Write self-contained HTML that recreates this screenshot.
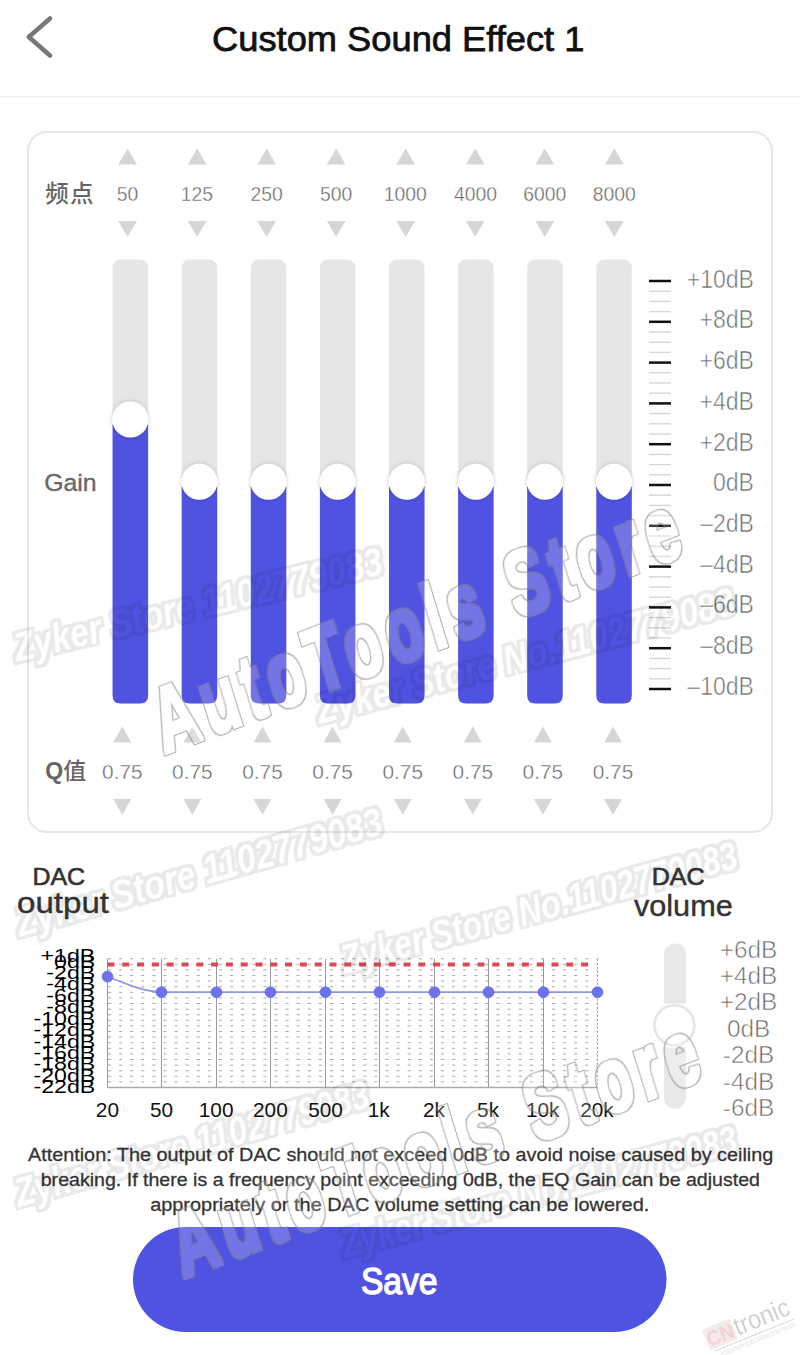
<!DOCTYPE html>
<html><head><meta charset="utf-8"><title>Custom Sound Effect 1</title>
<style>html,body{margin:0;padding:0;background:#fff;width:800px;height:1355px;overflow:hidden;position:relative;font-family:"Liberation Sans","Noto Sans CJK SC",sans-serif}</style>
</head><body>
<svg width="800" height="1355" viewBox="0 0 800 1355" style="position:absolute;left:0;top:0">
<defs><filter id="ks" x="-50%" y="-50%" width="200%" height="200%"><feDropShadow dx="0" dy="0" stdDeviation="2" flood-color="#000" flood-opacity="0.22"/></filter></defs>
<path d="M50 18.5 L28.8 37 L50 55.5" fill="none" stroke="#777" stroke-width="4.5" stroke-linecap="round" stroke-linejoin="round"/>
<text x="212.06" y="50.70" font-size="35" font-family="Liberation Sans, sans-serif" fill="#111" textLength="372.41" lengthAdjust="spacingAndGlyphs" stroke="#111" stroke-width="0.75">Custom Sound Effect 1</text>
<rect x="0" y="96" width="800" height="1.2" fill="#efefef"/>
<rect x="28" y="132" width="744" height="700" rx="19" ry="19" fill="#fff" stroke="#e7e7e7" stroke-width="2"/>
<text x="45.3" y="201.5" font-size="23.5" letter-spacing="1.2" font-weight="500" font-family="Liberation Sans, Noto Sans CJK SC, sans-serif" fill="#666">频点</text>
<path d="M118.25 164.50 L127.60 148.40 L136.95 164.50 Z" fill="#d6d6d6"/>
<text x="116.83" y="201.40" font-size="20.8" font-family="Liberation Sans, sans-serif" fill="#6a6a6a" textLength="21.52" lengthAdjust="spacingAndGlyphs" stroke="#fff" stroke-width="0.35">50</text>
<path d="M118.25 220.90 L127.60 237.10 L136.95 220.90 Z" fill="#d6d6d6"/>
<path d="M187.78 164.50 L197.13 148.40 L206.48 164.50 Z" fill="#d6d6d6"/>
<text x="180.66" y="201.40" font-size="20.8" font-family="Liberation Sans, sans-serif" fill="#6a6a6a" textLength="32.27" lengthAdjust="spacingAndGlyphs" stroke="#fff" stroke-width="0.35">125</text>
<path d="M187.78 220.90 L197.13 237.10 L206.48 220.90 Z" fill="#d6d6d6"/>
<path d="M257.31 164.50 L266.66 148.40 L276.01 164.50 Z" fill="#d6d6d6"/>
<text x="250.41" y="201.40" font-size="20.8" font-family="Liberation Sans, sans-serif" fill="#6a6a6a" textLength="32.27" lengthAdjust="spacingAndGlyphs" stroke="#fff" stroke-width="0.35">250</text>
<path d="M257.31 220.90 L266.66 237.10 L276.01 220.90 Z" fill="#d6d6d6"/>
<path d="M326.84 164.50 L336.19 148.40 L345.54 164.50 Z" fill="#d6d6d6"/>
<text x="320.04" y="201.40" font-size="20.8" font-family="Liberation Sans, sans-serif" fill="#6a6a6a" textLength="32.27" lengthAdjust="spacingAndGlyphs" stroke="#fff" stroke-width="0.35">500</text>
<path d="M326.84 220.90 L336.19 237.10 L345.54 220.90 Z" fill="#d6d6d6"/>
<path d="M396.37 164.50 L405.72 148.40 L415.07 164.50 Z" fill="#d6d6d6"/>
<text x="383.84" y="201.40" font-size="20.8" font-family="Liberation Sans, sans-serif" fill="#6a6a6a" textLength="43.03" lengthAdjust="spacingAndGlyphs" stroke="#fff" stroke-width="0.35">1000</text>
<path d="M396.37 220.90 L405.72 237.10 L415.07 220.90 Z" fill="#d6d6d6"/>
<path d="M465.90 164.50 L475.25 148.40 L484.60 164.50 Z" fill="#d6d6d6"/>
<text x="453.89" y="201.40" font-size="20.8" font-family="Liberation Sans, sans-serif" fill="#6a6a6a" textLength="43.03" lengthAdjust="spacingAndGlyphs" stroke="#fff" stroke-width="0.35">4000</text>
<path d="M465.90 220.90 L475.25 237.10 L484.60 220.90 Z" fill="#d6d6d6"/>
<path d="M535.43 164.50 L544.78 148.40 L554.13 164.50 Z" fill="#d6d6d6"/>
<text x="523.15" y="201.40" font-size="20.8" font-family="Liberation Sans, sans-serif" fill="#6a6a6a" textLength="43.03" lengthAdjust="spacingAndGlyphs" stroke="#fff" stroke-width="0.35">6000</text>
<path d="M535.43 220.90 L544.78 237.10 L554.13 220.90 Z" fill="#d6d6d6"/>
<path d="M604.96 164.50 L614.31 148.40 L623.66 164.50 Z" fill="#d6d6d6"/>
<text x="592.75" y="201.40" font-size="20.8" font-family="Liberation Sans, sans-serif" fill="#6a6a6a" textLength="43.03" lengthAdjust="spacingAndGlyphs" stroke="#fff" stroke-width="0.35">8000</text>
<path d="M604.96 220.90 L614.31 237.10 L623.66 220.90 Z" fill="#d6d6d6"/>
<rect x="112.60" y="259.6" width="35.5" height="443.8" rx="8" fill="#e6e6e6"/>
<path d="M112.60 424.50 H148.10 V695.40 Q148.10 703.4 140.10 703.4 H120.60 Q112.60 703.4 112.60 695.40 Z" fill="#5053e1"/>
<circle cx="130.35" cy="419.50" r="18" fill="#fff" filter="url(#ks)"/>
<rect x="181.70" y="259.6" width="35.5" height="443.8" rx="8" fill="#e6e6e6"/>
<path d="M181.70 486.80 H217.20 V695.40 Q217.20 703.4 209.20 703.4 H189.70 Q181.70 703.4 181.70 695.40 Z" fill="#5053e1"/>
<circle cx="199.45" cy="481.80" r="18" fill="#fff" filter="url(#ks)"/>
<rect x="250.80" y="259.6" width="35.5" height="443.8" rx="8" fill="#e6e6e6"/>
<path d="M250.80 486.80 H286.30 V695.40 Q286.30 703.4 278.30 703.4 H258.80 Q250.80 703.4 250.80 695.40 Z" fill="#5053e1"/>
<circle cx="268.55" cy="481.80" r="18" fill="#fff" filter="url(#ks)"/>
<rect x="319.90" y="259.6" width="35.5" height="443.8" rx="8" fill="#e6e6e6"/>
<path d="M319.90 486.80 H355.40 V695.40 Q355.40 703.4 347.40 703.4 H327.90 Q319.90 703.4 319.90 695.40 Z" fill="#5053e1"/>
<circle cx="337.65" cy="481.80" r="18" fill="#fff" filter="url(#ks)"/>
<rect x="389.00" y="259.6" width="35.5" height="443.8" rx="8" fill="#e6e6e6"/>
<path d="M389.00 486.80 H424.50 V695.40 Q424.50 703.4 416.50 703.4 H397.00 Q389.00 703.4 389.00 695.40 Z" fill="#5053e1"/>
<circle cx="406.75" cy="481.80" r="18" fill="#fff" filter="url(#ks)"/>
<rect x="458.10" y="259.6" width="35.5" height="443.8" rx="8" fill="#e6e6e6"/>
<path d="M458.10 486.80 H493.60 V695.40 Q493.60 703.4 485.60 703.4 H466.10 Q458.10 703.4 458.10 695.40 Z" fill="#5053e1"/>
<circle cx="475.85" cy="481.80" r="18" fill="#fff" filter="url(#ks)"/>
<rect x="527.20" y="259.6" width="35.5" height="443.8" rx="8" fill="#e6e6e6"/>
<path d="M527.20 486.80 H562.70 V695.40 Q562.70 703.4 554.70 703.4 H535.20 Q527.20 703.4 527.20 695.40 Z" fill="#5053e1"/>
<circle cx="544.95" cy="481.80" r="18" fill="#fff" filter="url(#ks)"/>
<rect x="596.30" y="259.6" width="35.5" height="443.8" rx="8" fill="#e6e6e6"/>
<path d="M596.30 486.80 H631.80 V695.40 Q631.80 703.4 623.80 703.4 H604.30 Q596.30 703.4 596.30 695.40 Z" fill="#5053e1"/>
<circle cx="614.05" cy="481.80" r="18" fill="#fff" filter="url(#ks)"/>
<text x="44.25" y="491.20" font-size="24.5" font-family="Liberation Sans, sans-serif" fill="#666" textLength="52.36" lengthAdjust="spacingAndGlyphs" stroke="#666" stroke-width="0.35">Gain</text>
<rect x="649" y="279.75" width="22" height="2.5" fill="#111"/>
<rect x="649" y="290.50" width="22" height="1.4" fill="#d6d6d6"/>
<rect x="649" y="300.70" width="22" height="1.4" fill="#d6d6d6"/>
<rect x="649" y="310.90" width="22" height="1.4" fill="#d6d6d6"/>
<rect x="649" y="320.55" width="22" height="2.5" fill="#111"/>
<rect x="649" y="331.30" width="22" height="1.4" fill="#d6d6d6"/>
<rect x="649" y="341.50" width="22" height="1.4" fill="#d6d6d6"/>
<rect x="649" y="351.70" width="22" height="1.4" fill="#d6d6d6"/>
<rect x="649" y="361.35" width="22" height="2.5" fill="#111"/>
<rect x="649" y="372.10" width="22" height="1.4" fill="#d6d6d6"/>
<rect x="649" y="382.30" width="22" height="1.4" fill="#d6d6d6"/>
<rect x="649" y="392.50" width="22" height="1.4" fill="#d6d6d6"/>
<rect x="649" y="402.15" width="22" height="2.5" fill="#111"/>
<rect x="649" y="412.90" width="22" height="1.4" fill="#d6d6d6"/>
<rect x="649" y="423.10" width="22" height="1.4" fill="#d6d6d6"/>
<rect x="649" y="433.30" width="22" height="1.4" fill="#d6d6d6"/>
<rect x="649" y="442.95" width="22" height="2.5" fill="#111"/>
<rect x="649" y="453.70" width="22" height="1.4" fill="#d6d6d6"/>
<rect x="649" y="463.90" width="22" height="1.4" fill="#d6d6d6"/>
<rect x="649" y="474.10" width="22" height="1.4" fill="#d6d6d6"/>
<rect x="649" y="483.75" width="22" height="2.5" fill="#111"/>
<rect x="649" y="494.50" width="22" height="1.4" fill="#d6d6d6"/>
<rect x="649" y="504.70" width="22" height="1.4" fill="#d6d6d6"/>
<rect x="649" y="514.90" width="22" height="1.4" fill="#d6d6d6"/>
<rect x="649" y="524.55" width="22" height="2.5" fill="#111"/>
<rect x="649" y="535.30" width="22" height="1.4" fill="#d6d6d6"/>
<rect x="649" y="545.50" width="22" height="1.4" fill="#d6d6d6"/>
<rect x="649" y="555.70" width="22" height="1.4" fill="#d6d6d6"/>
<rect x="649" y="565.35" width="22" height="2.5" fill="#111"/>
<rect x="649" y="576.10" width="22" height="1.4" fill="#d6d6d6"/>
<rect x="649" y="586.30" width="22" height="1.4" fill="#d6d6d6"/>
<rect x="649" y="596.50" width="22" height="1.4" fill="#d6d6d6"/>
<rect x="649" y="606.15" width="22" height="2.5" fill="#111"/>
<rect x="649" y="616.90" width="22" height="1.4" fill="#d6d6d6"/>
<rect x="649" y="627.10" width="22" height="1.4" fill="#d6d6d6"/>
<rect x="649" y="637.30" width="22" height="1.4" fill="#d6d6d6"/>
<rect x="649" y="646.95" width="22" height="2.5" fill="#111"/>
<rect x="649" y="657.70" width="22" height="1.4" fill="#d6d6d6"/>
<rect x="649" y="667.90" width="22" height="1.4" fill="#d6d6d6"/>
<rect x="649" y="678.10" width="22" height="1.4" fill="#d6d6d6"/>
<rect x="649" y="687.75" width="22" height="2.5" fill="#111"/>
<text x="686.67" y="287.60" font-size="25.5" font-family="Liberation Sans, sans-serif" fill="#6a6a6a" textLength="67.34" lengthAdjust="spacingAndGlyphs" stroke="#fff" stroke-width="0.6">+10dB</text>
<text x="699.50" y="328.33" font-size="25.5" font-family="Liberation Sans, sans-serif" fill="#6a6a6a" textLength="54.51" lengthAdjust="spacingAndGlyphs" stroke="#fff" stroke-width="0.6">+8dB</text>
<text x="699.50" y="369.06" font-size="25.5" font-family="Liberation Sans, sans-serif" fill="#6a6a6a" textLength="54.51" lengthAdjust="spacingAndGlyphs" stroke="#fff" stroke-width="0.6">+6dB</text>
<text x="699.50" y="409.79" font-size="25.5" font-family="Liberation Sans, sans-serif" fill="#6a6a6a" textLength="54.51" lengthAdjust="spacingAndGlyphs" stroke="#fff" stroke-width="0.6">+4dB</text>
<text x="699.50" y="450.52" font-size="25.5" font-family="Liberation Sans, sans-serif" fill="#6a6a6a" textLength="54.51" lengthAdjust="spacingAndGlyphs" stroke="#fff" stroke-width="0.6">+2dB</text>
<text x="712.97" y="491.25" font-size="25.5" font-family="Liberation Sans, sans-serif" fill="#6a6a6a" textLength="41.04" lengthAdjust="spacingAndGlyphs" stroke="#fff" stroke-width="0.6">0dB</text>
<text x="700.14" y="531.98" font-size="25.5" font-family="Liberation Sans, sans-serif" fill="#6a6a6a" textLength="53.87" lengthAdjust="spacingAndGlyphs" stroke="#fff" stroke-width="0.6">–2dB</text>
<text x="700.14" y="572.71" font-size="25.5" font-family="Liberation Sans, sans-serif" fill="#6a6a6a" textLength="53.87" lengthAdjust="spacingAndGlyphs" stroke="#fff" stroke-width="0.6">–4dB</text>
<text x="700.14" y="613.44" font-size="25.5" font-family="Liberation Sans, sans-serif" fill="#6a6a6a" textLength="53.87" lengthAdjust="spacingAndGlyphs" stroke="#fff" stroke-width="0.6">–6dB</text>
<text x="700.14" y="654.17" font-size="25.5" font-family="Liberation Sans, sans-serif" fill="#6a6a6a" textLength="53.87" lengthAdjust="spacingAndGlyphs" stroke="#fff" stroke-width="0.6">–8dB</text>
<text x="687.32" y="694.90" font-size="25.5" font-family="Liberation Sans, sans-serif" fill="#6a6a6a" textLength="66.70" lengthAdjust="spacingAndGlyphs" stroke="#fff" stroke-width="0.6">–10dB</text>
<text x="45.3" y="779" font-size="23" font-weight="500" font-family="Liberation Sans, Noto Sans CJK SC, sans-serif" fill="#666"><tspan font-weight="bold">Q</tspan>值</text>
<path d="M113.30 742.50 L122.30 726.40 L131.30 742.50 Z" fill="#d6d6d6"/>
<text x="102.04" y="778.80" font-size="20" font-family="Liberation Sans, sans-serif" fill="#6a6a6a" textLength="40.59" lengthAdjust="spacingAndGlyphs" stroke="#fff" stroke-width="0.35">0.75</text>
<path d="M113.30 799.00 L122.30 814.80 L131.30 799.00 Z" fill="#d6d6d6"/>
<path d="M183.40 742.50 L192.40 726.40 L201.40 742.50 Z" fill="#d6d6d6"/>
<text x="172.14" y="778.80" font-size="20" font-family="Liberation Sans, sans-serif" fill="#6a6a6a" textLength="40.59" lengthAdjust="spacingAndGlyphs" stroke="#fff" stroke-width="0.35">0.75</text>
<path d="M183.40 799.00 L192.40 814.80 L201.40 799.00 Z" fill="#d6d6d6"/>
<path d="M253.50 742.50 L262.50 726.40 L271.50 742.50 Z" fill="#d6d6d6"/>
<text x="242.24" y="778.80" font-size="20" font-family="Liberation Sans, sans-serif" fill="#6a6a6a" textLength="40.59" lengthAdjust="spacingAndGlyphs" stroke="#fff" stroke-width="0.35">0.75</text>
<path d="M253.50 799.00 L262.50 814.80 L271.50 799.00 Z" fill="#d6d6d6"/>
<path d="M323.60 742.50 L332.60 726.40 L341.60 742.50 Z" fill="#d6d6d6"/>
<text x="312.34" y="778.80" font-size="20" font-family="Liberation Sans, sans-serif" fill="#6a6a6a" textLength="40.59" lengthAdjust="spacingAndGlyphs" stroke="#fff" stroke-width="0.35">0.75</text>
<path d="M323.60 799.00 L332.60 814.80 L341.60 799.00 Z" fill="#d6d6d6"/>
<path d="M393.70 742.50 L402.70 726.40 L411.70 742.50 Z" fill="#d6d6d6"/>
<text x="382.44" y="778.80" font-size="20" font-family="Liberation Sans, sans-serif" fill="#6a6a6a" textLength="40.59" lengthAdjust="spacingAndGlyphs" stroke="#fff" stroke-width="0.35">0.75</text>
<path d="M393.70 799.00 L402.70 814.80 L411.70 799.00 Z" fill="#d6d6d6"/>
<path d="M463.80 742.50 L472.80 726.40 L481.80 742.50 Z" fill="#d6d6d6"/>
<text x="452.54" y="778.80" font-size="20" font-family="Liberation Sans, sans-serif" fill="#6a6a6a" textLength="40.59" lengthAdjust="spacingAndGlyphs" stroke="#fff" stroke-width="0.35">0.75</text>
<path d="M463.80 799.00 L472.80 814.80 L481.80 799.00 Z" fill="#d6d6d6"/>
<path d="M533.90 742.50 L542.90 726.40 L551.90 742.50 Z" fill="#d6d6d6"/>
<text x="522.64" y="778.80" font-size="20" font-family="Liberation Sans, sans-serif" fill="#6a6a6a" textLength="40.59" lengthAdjust="spacingAndGlyphs" stroke="#fff" stroke-width="0.35">0.75</text>
<path d="M533.90 799.00 L542.90 814.80 L551.90 799.00 Z" fill="#d6d6d6"/>
<path d="M604.00 742.50 L613.00 726.40 L622.00 742.50 Z" fill="#d6d6d6"/>
<text x="592.74" y="778.80" font-size="20" font-family="Liberation Sans, sans-serif" fill="#6a6a6a" textLength="40.59" lengthAdjust="spacingAndGlyphs" stroke="#fff" stroke-width="0.35">0.75</text>
<path d="M604.00 799.00 L613.00 814.80 L622.00 799.00 Z" fill="#d6d6d6"/>
<text x="32.45" y="885.40" font-size="23" font-family="Liberation Sans, sans-serif" fill="#333" textLength="52.70" lengthAdjust="spacingAndGlyphs" stroke="#333" stroke-width="0.6">DAC</text>
<text x="17.11" y="912.90" font-size="29.5" font-family="Liberation Sans, sans-serif" fill="#333" textLength="91.83" lengthAdjust="spacingAndGlyphs" stroke="#333" stroke-width="0.4">output</text>
<text x="651.74" y="884.90" font-size="23" font-family="Liberation Sans, sans-serif" fill="#333" textLength="52.91" lengthAdjust="spacingAndGlyphs" stroke="#333" stroke-width="0.6">DAC</text>
<text x="633.90" y="916.00" font-size="29.5" font-family="Liberation Sans, sans-serif" fill="#333" textLength="98.87" lengthAdjust="spacingAndGlyphs" stroke="#333" stroke-width="0.4">volume</text>
<line x1="108.00" y1="958.75" x2="597.50" y2="958.75" stroke="#a8a8a8" stroke-width="1" stroke-dasharray="3 8.1"/>
<line x1="108.00" y1="964.35" x2="597.50" y2="964.35" stroke="#a8a8a8" stroke-width="1" stroke-dasharray="3 8.1"/>
<line x1="108.00" y1="969.95" x2="597.50" y2="969.95" stroke="#a8a8a8" stroke-width="1" stroke-dasharray="3 8.1"/>
<line x1="108.00" y1="975.54" x2="597.50" y2="975.54" stroke="#a8a8a8" stroke-width="1" stroke-dasharray="3 8.1"/>
<line x1="108.00" y1="981.14" x2="597.50" y2="981.14" stroke="#a8a8a8" stroke-width="1" stroke-dasharray="3 8.1"/>
<line x1="108.00" y1="986.74" x2="597.50" y2="986.74" stroke="#a8a8a8" stroke-width="1" stroke-dasharray="3 8.1"/>
<line x1="108.00" y1="992.34" x2="597.50" y2="992.34" stroke="#a8a8a8" stroke-width="1" stroke-dasharray="3 8.1"/>
<line x1="108.00" y1="997.93" x2="597.50" y2="997.93" stroke="#a8a8a8" stroke-width="1" stroke-dasharray="3 8.1"/>
<line x1="108.00" y1="1003.53" x2="597.50" y2="1003.53" stroke="#a8a8a8" stroke-width="1" stroke-dasharray="3 8.1"/>
<line x1="108.00" y1="1009.13" x2="597.50" y2="1009.13" stroke="#a8a8a8" stroke-width="1" stroke-dasharray="3 8.1"/>
<line x1="108.00" y1="1014.73" x2="597.50" y2="1014.73" stroke="#a8a8a8" stroke-width="1" stroke-dasharray="3 8.1"/>
<line x1="108.00" y1="1020.33" x2="597.50" y2="1020.33" stroke="#a8a8a8" stroke-width="1" stroke-dasharray="3 8.1"/>
<line x1="108.00" y1="1025.92" x2="597.50" y2="1025.92" stroke="#a8a8a8" stroke-width="1" stroke-dasharray="3 8.1"/>
<line x1="108.00" y1="1031.52" x2="597.50" y2="1031.52" stroke="#a8a8a8" stroke-width="1" stroke-dasharray="3 8.1"/>
<line x1="108.00" y1="1037.12" x2="597.50" y2="1037.12" stroke="#a8a8a8" stroke-width="1" stroke-dasharray="3 8.1"/>
<line x1="108.00" y1="1042.72" x2="597.50" y2="1042.72" stroke="#a8a8a8" stroke-width="1" stroke-dasharray="3 8.1"/>
<line x1="108.00" y1="1048.32" x2="597.50" y2="1048.32" stroke="#a8a8a8" stroke-width="1" stroke-dasharray="3 8.1"/>
<line x1="108.00" y1="1053.91" x2="597.50" y2="1053.91" stroke="#a8a8a8" stroke-width="1" stroke-dasharray="3 8.1"/>
<line x1="108.00" y1="1059.51" x2="597.50" y2="1059.51" stroke="#a8a8a8" stroke-width="1" stroke-dasharray="3 8.1"/>
<line x1="108.00" y1="1065.11" x2="597.50" y2="1065.11" stroke="#a8a8a8" stroke-width="1" stroke-dasharray="3 8.1"/>
<line x1="108.00" y1="1070.71" x2="597.50" y2="1070.71" stroke="#a8a8a8" stroke-width="1" stroke-dasharray="3 8.1"/>
<line x1="108.00" y1="1076.30" x2="597.50" y2="1076.30" stroke="#a8a8a8" stroke-width="1" stroke-dasharray="3 8.1"/>
<line x1="108.00" y1="1081.90" x2="597.50" y2="1081.90" stroke="#a8a8a8" stroke-width="1" stroke-dasharray="3 8.1"/>
<line x1="108.00" y1="1087.50" x2="597.50" y2="1087.50" stroke="#a8a8a8" stroke-width="1" stroke-dasharray="3 8.1"/>
<line x1="107.50" y1="958.75" x2="107.50" y2="1087.50" stroke="#999" stroke-width="1"/>
<line x1="161.50" y1="958.75" x2="161.50" y2="1087.50" stroke="#999" stroke-width="1"/>
<line x1="216.50" y1="958.75" x2="216.50" y2="1087.50" stroke="#999" stroke-width="1"/>
<line x1="270.50" y1="958.75" x2="270.50" y2="1087.50" stroke="#999" stroke-width="1"/>
<line x1="325.50" y1="958.75" x2="325.50" y2="1087.50" stroke="#999" stroke-width="1"/>
<line x1="379.50" y1="958.75" x2="379.50" y2="1087.50" stroke="#999" stroke-width="1"/>
<line x1="434.50" y1="958.75" x2="434.50" y2="1087.50" stroke="#999" stroke-width="1"/>
<line x1="488.50" y1="958.75" x2="488.50" y2="1087.50" stroke="#999" stroke-width="1"/>
<line x1="543.50" y1="958.75" x2="543.50" y2="1087.50" stroke="#999" stroke-width="1"/>
<line x1="597.50" y1="958.75" x2="597.50" y2="1087.50" stroke="#999" stroke-width="1" stroke-dasharray="2 2"/>
<line x1="107.50" y1="1087.50" x2="597.50" y2="1087.50" stroke="#aaa" stroke-width="1.5"/>
<line x1="107.50" y1="964.4" x2="589.50" y2="964.4" stroke="#db4a52" stroke-width="4" stroke-dasharray="7 7.8"/>
<path d="M107.50 976.60 C125.50 983.60 143.50 991.70 161.50 992.20 L597.50 992.20" fill="none" stroke="#8e95ec" stroke-width="1.7"/>
<circle cx="107.50" cy="976.60" r="5.5" fill="#6c73ea" stroke="#5b62e4" stroke-width="0.6"/>
<circle cx="161.50" cy="992.20" r="5.5" fill="#6c73ea" stroke="#5b62e4" stroke-width="0.6"/>
<circle cx="216.50" cy="992.20" r="5.5" fill="#6c73ea" stroke="#5b62e4" stroke-width="0.6"/>
<circle cx="270.50" cy="992.20" r="5.5" fill="#6c73ea" stroke="#5b62e4" stroke-width="0.6"/>
<circle cx="325.50" cy="992.20" r="5.5" fill="#6c73ea" stroke="#5b62e4" stroke-width="0.6"/>
<circle cx="379.50" cy="992.20" r="5.5" fill="#6c73ea" stroke="#5b62e4" stroke-width="0.6"/>
<circle cx="434.50" cy="992.20" r="5.5" fill="#6c73ea" stroke="#5b62e4" stroke-width="0.6"/>
<circle cx="488.50" cy="992.20" r="5.5" fill="#6c73ea" stroke="#5b62e4" stroke-width="0.6"/>
<circle cx="543.50" cy="992.20" r="5.5" fill="#6c73ea" stroke="#5b62e4" stroke-width="0.6"/>
<circle cx="597.50" cy="992.20" r="5.5" fill="#6c73ea" stroke="#5b62e4" stroke-width="0.6"/>
<text x="40.53" y="961.80" font-size="18" font-family="Liberation Sans, sans-serif" fill="#000" textLength="54.69" lengthAdjust="spacingAndGlyphs">+1dB</text>
<text x="54.05" y="967.52" font-size="18" font-family="Liberation Sans, sans-serif" fill="#000" textLength="41.17" lengthAdjust="spacingAndGlyphs">0dB</text>
<text x="46.34" y="978.95" font-size="18" font-family="Liberation Sans, sans-serif" fill="#000" textLength="48.88" lengthAdjust="spacingAndGlyphs">-2dB</text>
<text x="46.34" y="990.39" font-size="18" font-family="Liberation Sans, sans-serif" fill="#000" textLength="48.88" lengthAdjust="spacingAndGlyphs">-4dB</text>
<text x="46.34" y="1001.82" font-size="18" font-family="Liberation Sans, sans-serif" fill="#000" textLength="48.88" lengthAdjust="spacingAndGlyphs">-6dB</text>
<text x="46.34" y="1013.26" font-size="18" font-family="Liberation Sans, sans-serif" fill="#000" textLength="48.88" lengthAdjust="spacingAndGlyphs">-8dB</text>
<text x="33.47" y="1024.69" font-size="18" font-family="Liberation Sans, sans-serif" fill="#000" textLength="61.75" lengthAdjust="spacingAndGlyphs">-10dB</text>
<text x="33.47" y="1036.13" font-size="18" font-family="Liberation Sans, sans-serif" fill="#000" textLength="61.75" lengthAdjust="spacingAndGlyphs">-12dB</text>
<text x="33.47" y="1047.56" font-size="18" font-family="Liberation Sans, sans-serif" fill="#000" textLength="61.75" lengthAdjust="spacingAndGlyphs">-14dB</text>
<text x="33.47" y="1059.00" font-size="18" font-family="Liberation Sans, sans-serif" fill="#000" textLength="61.75" lengthAdjust="spacingAndGlyphs">-16dB</text>
<text x="33.47" y="1070.43" font-size="18" font-family="Liberation Sans, sans-serif" fill="#000" textLength="61.75" lengthAdjust="spacingAndGlyphs">-18dB</text>
<text x="33.47" y="1081.87" font-size="18" font-family="Liberation Sans, sans-serif" fill="#000" textLength="61.75" lengthAdjust="spacingAndGlyphs">-20dB</text>
<text x="33.47" y="1093.30" font-size="18" font-family="Liberation Sans, sans-serif" fill="#000" textLength="61.75" lengthAdjust="spacingAndGlyphs">-22dB</text>
<text x="95.82" y="1116.90" font-size="20.8" font-family="Liberation Sans, sans-serif" fill="#111">20</text>
<text x="149.92" y="1116.90" font-size="20.8" font-family="Liberation Sans, sans-serif" fill="#111">50</text>
<text x="198.76" y="1116.90" font-size="20.8" font-family="Liberation Sans, sans-serif" fill="#111">100</text>
<text x="253.03" y="1116.90" font-size="20.8" font-family="Liberation Sans, sans-serif" fill="#111">200</text>
<text x="308.14" y="1116.90" font-size="20.8" font-family="Liberation Sans, sans-serif" fill="#111">500</text>
<text x="367.71" y="1116.90" font-size="20.8" font-family="Liberation Sans, sans-serif" fill="#111">1k</text>
<text x="422.98" y="1116.90" font-size="20.8" font-family="Liberation Sans, sans-serif" fill="#111">2k</text>
<text x="477.08" y="1116.90" font-size="20.8" font-family="Liberation Sans, sans-serif" fill="#111">5k</text>
<text x="525.92" y="1116.90" font-size="20.8" font-family="Liberation Sans, sans-serif" fill="#111">10k</text>
<text x="580.19" y="1116.90" font-size="20.8" font-family="Liberation Sans, sans-serif" fill="#111">20k</text>
<path d="M664 1003.6 V954.4 A11 11 0 0 1 686 954.4 V1003.6 Z" fill="#e8e8e8"/>
<path d="M664 1047.6 V1097.8 A11 11 0 0 0 686 1097.8 V1047.6 Z" fill="#e8e8e8"/>
<circle cx="674.4" cy="1025.2" r="20" fill="#fff" stroke="#e5e5e5" stroke-width="2.6"/>
<text x="719.72" y="957.50" font-size="24.4" font-family="Liberation Sans, sans-serif" fill="#6a6a6a" stroke="#fff" stroke-width="0.6">+6dB</text>
<text x="719.72" y="983.92" font-size="24.4" font-family="Liberation Sans, sans-serif" fill="#6a6a6a" stroke="#fff" stroke-width="0.6">+4dB</text>
<text x="719.72" y="1010.34" font-size="24.4" font-family="Liberation Sans, sans-serif" fill="#6a6a6a" stroke="#fff" stroke-width="0.6">+2dB</text>
<text x="726.96" y="1036.76" font-size="24.4" font-family="Liberation Sans, sans-serif" fill="#6a6a6a" stroke="#fff" stroke-width="0.6">0dB</text>
<text x="722.83" y="1063.18" font-size="24.4" font-family="Liberation Sans, sans-serif" fill="#6a6a6a" stroke="#fff" stroke-width="0.6">-2dB</text>
<text x="722.83" y="1089.60" font-size="24.4" font-family="Liberation Sans, sans-serif" fill="#6a6a6a" stroke="#fff" stroke-width="0.6">-4dB</text>
<text x="722.83" y="1116.02" font-size="24.4" font-family="Liberation Sans, sans-serif" fill="#6a6a6a" stroke="#fff" stroke-width="0.6">-6dB</text>
<text x="27.96" y="1160.50" font-size="19" font-family="Liberation Sans, sans-serif" fill="#333" textLength="745.32" lengthAdjust="spacingAndGlyphs" stroke="#333" stroke-width="0.3">Attention: The output of DAC should not exceed 0dB to avoid noise caused by ceiling</text>
<text x="40.74" y="1186.00" font-size="19" font-family="Liberation Sans, sans-serif" fill="#333" textLength="719.22" lengthAdjust="spacingAndGlyphs" stroke="#333" stroke-width="0.3">breaking. If there is a frequency point exceeding 0dB, the EQ Gain can be adjusted</text>
<text x="150.15" y="1210.50" font-size="19" font-family="Liberation Sans, sans-serif" fill="#333" textLength="499.16" lengthAdjust="spacingAndGlyphs" stroke="#333" stroke-width="0.3">appropriately or the DAC volume setting can be lowered.</text>
<rect x="133" y="1227" width="533.5" height="105" rx="52.5" fill="#5053e1"/>
<text x="360.98" y="1294.20" font-size="37" font-family="Liberation Sans, sans-serif" fill="#fff" textLength="76.52" lengthAdjust="spacingAndGlyphs" stroke="#fff" stroke-width="1.4">Save</text>
<filter id="wmA" x="-10%" y="-30%" width="120%" height="160%" color-interpolation-filters="sRGB"><feMorphology in="SourceAlpha" operator="dilate" radius="2.2" result="d"/><feFlood flood-color="#fff" flood-opacity="0.2"/><feComposite in2="d" operator="in" result="f"/><feMorphology in="d" operator="dilate" radius="1.1" result="d2"/><feComposite in="d2" in2="d" operator="out" result="r"/><feFlood flood-color="#8a8a8a" flood-opacity="0.7"/><feComposite in2="r" operator="in" result="o"/><feMerge><feMergeNode in="f"/><feMergeNode in="o"/></feMerge></filter>
<filter id="wmZ" x="-5%" y="-40%" width="110%" height="180%" color-interpolation-filters="sRGB"><feMorphology in="SourceAlpha" operator="dilate" radius="3" result="d"/><feComposite in="d" in2="SourceAlpha" operator="out" result="r"/><feGaussianBlur in="r" stdDeviation="0.6" result="rb"/><feFlood flood-color="#000" flood-opacity="0.085"/><feComposite in2="rb" operator="in"/></filter>
<text transform="translate(17 662) rotate(-13.45)" x="0" y="0" font-size="40" font-weight="bold" font-style="italic" font-family="Liberation Sans, sans-serif" textLength="378.4" lengthAdjust="spacingAndGlyphs" fill="#000" filter="url(#wmZ)">Zyker Store 1102779083</text>
<text transform="translate(320 724) rotate(-14.78)" x="0" y="0" font-size="40" font-weight="bold" font-style="italic" font-family="Liberation Sans, sans-serif" textLength="431.3" lengthAdjust="spacingAndGlyphs" fill="#000" filter="url(#wmZ)">Zyker Store No.1102779083</text>
<text transform="translate(20 937) rotate(-15.76)" x="0" y="0" font-size="40" font-weight="bold" font-style="italic" font-family="Liberation Sans, sans-serif" textLength="379.3" lengthAdjust="spacingAndGlyphs" fill="#000" filter="url(#wmZ)">Zyker Store 1102779083</text>
<text transform="translate(345 974) rotate(-15.02)" x="0" y="0" font-size="40" font-weight="bold" font-style="italic" font-family="Liberation Sans, sans-serif" textLength="409.0" lengthAdjust="spacingAndGlyphs" fill="#000" filter="url(#wmZ)">Zyker Store No.1102779083</text>
<text transform="translate(19 1207) rotate(-15.82)" x="0" y="0" font-size="40" font-weight="bold" font-style="italic" font-family="Liberation Sans, sans-serif" textLength="366.9" lengthAdjust="spacingAndGlyphs" fill="#000" filter="url(#wmZ)">Zyker Store 1102779083</text>
<text transform="translate(345 1258) rotate(-15.02)" x="0" y="0" font-size="40" font-weight="bold" font-style="italic" font-family="Liberation Sans, sans-serif" textLength="409.0" lengthAdjust="spacingAndGlyphs" fill="#000" filter="url(#wmZ)">Zyker Store No.1102779083</text>
<text transform="translate(164 754) rotate(-21) skewX(-4) scale(0.67 1)" x="0" y="0" font-size="90" font-weight="bold" font-family="Liberation Sans, sans-serif" textLength="834" lengthAdjust="spacing" fill="#000" filter="url(#wmA)">AutoTools Store</text>
<text transform="translate(183 1278) rotate(-21) skewX(-4) scale(0.67 1)" x="0" y="0" font-size="90" font-weight="bold" font-family="Liberation Sans, sans-serif" textLength="834" lengthAdjust="spacing" fill="#000" filter="url(#wmA)">AutoTools Store</text>
<g transform="translate(711 1352) rotate(-22)" opacity="0.55"><rect x="0" y="-24" width="30" height="22" fill="#e6dede"/><text x="1" y="-5" font-size="21" font-weight="bold" font-family="Liberation Sans, sans-serif" fill="#f3aaaa" textLength="28" lengthAdjust="spacingAndGlyphs">CN</text><text x="31" y="-5" font-size="26" font-family="Liberation Sans, sans-serif" fill="#aaa" textLength="58" lengthAdjust="spacingAndGlyphs">tronic</text><rect x="4" y="0" width="86" height="1" fill="#bbb"/><text x="8" y="8" font-size="6" font-family="Liberation Sans, sans-serif" fill="#bbb" textLength="80" lengthAdjust="spacingAndGlyphs">CONSUMER ELECTRONICS RETAILER</text></g>
</svg>
</body></html>
